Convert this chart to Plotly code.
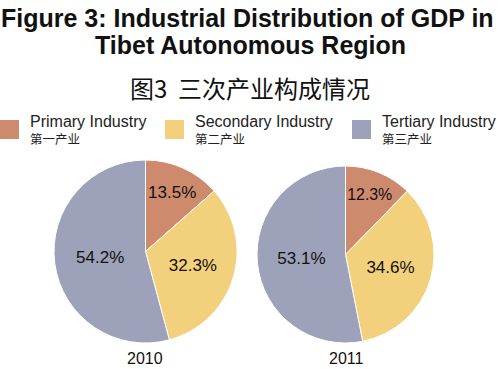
import plotly.graph_objects as go

categories = ["Primary Industry", "Secondary Industry", "Tertiary Industry"]
categories_cn = ["第一产业", "第二产业", "第三产业"]
years = ["2010", "2011"]
values_2010 = [13.5, 32.3, 54.2]
values_2011 = [12.3, 34.6, 53.1]
colors = ["#CD8A6C", "#F3D07B", "#9DA1B9"]

W, H = 500, 369
def px(x):
    return x / W
def py(y):
    return 1 - y / H

fig = go.Figure()
domains = [
    dict(x=[px(54), px(237)], y=[py(343), py(160)]),
    dict(x=[px(257), px(434)], y=[py(343), py(166)]),
]
for vals, dom, yr in zip([values_2010, values_2011], domains, years):
    fig.add_trace(go.Pie(
        labels=categories, values=vals, sort=False, direction="clockwise",
        rotation=0, domain=dom, name=yr,
        marker=dict(colors=colors, line=dict(color="white", width=1)),
        texttemplate="%{value:.1f}%", textposition="inside",
        insidetextorientation="horizontal",
        textfont=dict(family="Liberation Sans, Arial, sans-serif", size=17, color="#111111"),
        hoverinfo="label+value", showlegend=False,
    ))

ann = []
font_b = "Liberation Sans, Arial, sans-serif"
ann.append(dict(text="<b>Figure 3: Industrial Distribution of GDP in</b>", x=px(247), y=py(18),
                font=dict(family=font_b, size=25, color="#111111")))
ann.append(dict(text="<b>Tibet Autonomous Region</b>", x=px(250), y=py(44.5),
                font=dict(family=font_b, size=25, color="#111111")))
ann.append(dict(text="图3  三次产业构成情况", x=px(250), y=py(87),
                font=dict(family="Noto Sans CJK SC", size=24, color="#111111")))

# legend
sw_x = [0, 165, 352]
tx_x = [28, 193, 380]
shapes = []
for i, (cat, cn) in enumerate(zip(categories, categories_cn)):
    shapes.append(dict(type="rect", xref="paper", yref="paper",
                       x0=px(sw_x[i]), x1=px(sw_x[i] + 19), y0=py(139), y1=py(120),
                       fillcolor=colors[i], line=dict(width=0)))
    ann.append(dict(text=cat, x=px(tx_x[i]), y=py(121.5), xanchor="left",
                    font=dict(family=font_b, size=16, color="#222222")))
    ann.append(dict(text=cn, x=px(tx_x[i]), y=py(138), xanchor="left",
                    font=dict(family="Noto Sans CJK SC", size=12.5, color="#222222")))

# year labels
ann.append(dict(text=years[0], x=px(145), y=py(358),
                font=dict(family=font_b, size=16, color="#111111")))
ann.append(dict(text=years[1], x=px(346), y=py(358),
                font=dict(family=font_b, size=16, color="#111111")))

for a in ann:
    a.setdefault("xanchor", "center")
    a.update(xref="paper", yref="paper", yanchor="middle", showarrow=False)

fig.update_layout(
    width=W, height=H, margin=dict(l=0, r=0, t=0, b=0),
    paper_bgcolor="white", plot_bgcolor="white",
    annotations=ann, shapes=shapes, showlegend=False,
)
fig.write_html("out.html", config={"displayModeBar": False},
               post_script="document.body.style.margin='0px';document.body.style.overflow='hidden';")
